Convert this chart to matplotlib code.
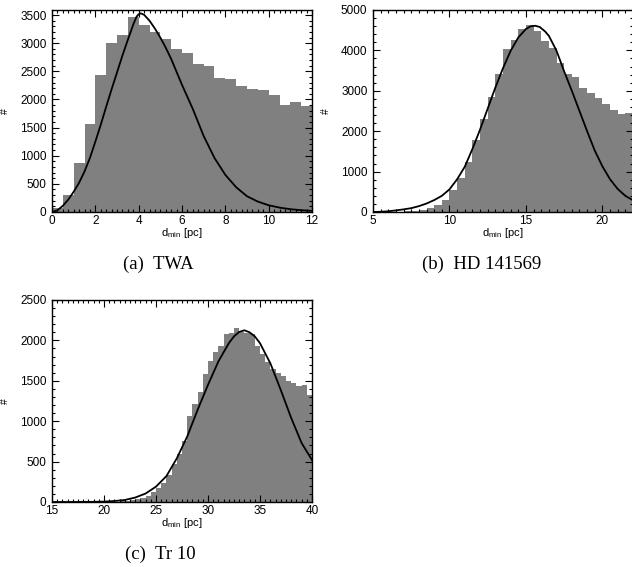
import numpy as np
import matplotlib
matplotlib.use("Agg")
import matplotlib.pyplot as plt
from matplotlib.ticker import MultipleLocator

plt.rcParams["font.family"] = ["Liberation Sans", "DejaVu Sans"]
plt.rcParams["mathtext.fontset"] = "custom"
plt.rcParams["mathtext.rm"] = "Liberation Sans"
plt.rcParams["mathtext.it"] = "Liberation Sans:italic"

# ---- (a) TWA: histogram of d_min (0.5 pc bins from 0 pc) and fitted curve
twa_bin_start, twa_bin_width = 0.0, 0.5
twa_counts = [65, 300, 865, 1563, 2433, 3008, 3150, 3470, 3322, 3191, 3067, 2890,
              2830, 2629, 2593, 2374, 2357, 2238, 2179, 2167, 2072, 1895, 1954, 1883]
twa_fit_x = [0.0, 0.25, 0.5, 0.75, 1.0, 1.25, 1.5, 1.75, 2.0, 2.25, 2.5, 2.75, 3.0,
             3.25, 3.5, 3.75, 3.9, 4.0, 4.1, 4.25, 4.5, 4.75, 5.0, 5.25, 5.5, 5.75,
             6.0, 6.5, 7.0, 7.5, 8.0, 8.5, 9.0, 9.5, 10.0, 10.5, 11.0, 11.5, 12.0]
twa_fit_y = [0, 30, 110, 220, 360, 520, 720, 960, 1250, 1550, 1870, 2180, 2480,
             2780, 3060, 3330, 3470, 3515, 3530, 3505, 3400, 3260, 3100, 2920, 2720, 2490,
             2260, 1830, 1350, 960, 660, 440, 280, 185, 120, 78, 50, 32, 20]

# ---- (b) HD 141569
hd_bin_start, hd_bin_width = 5.0, 0.5
hd_counts = [3, 5, 8, 12, 20, 35, 60, 100, 180, 300, 540, 840, 1230, 1790, 2300, 2840,
             3410, 4040, 4250, 4520, 4620, 4480, 4230, 4070, 3690, 3410, 3330, 3080,
             2950, 2810, 2670, 2520, 2420, 2440]
hd_fit_x = [5.0, 5.5, 6.0, 6.5, 7.0, 7.5, 8.0, 8.5, 9.0, 9.5, 10.0, 10.5, 11.0, 11.5,
            12.0, 12.5, 13.0, 13.5, 14.0, 14.5, 15.0, 15.3, 15.6, 15.9, 16.25, 16.5,
            17.0, 17.5, 18.0, 18.5, 19.0, 19.5, 20.0, 20.5, 21.0, 21.5, 22.0]
hd_fit_y = [0, 5, 18, 40, 65, 95, 145, 210, 295, 400, 560, 810, 1120, 1560,
            2040, 2560, 3080, 3560, 3990, 4320, 4530, 4595, 4610, 4580, 4470, 4360,
            3990, 3480, 3000, 2500, 2000, 1520, 1130, 810, 570, 400, 290]

# ---- (c) Tr 10
tr_bin_start, tr_bin_width = 15.0, 0.5
tr_counts = [1, 1, 1, 1, 1, 1, 2, 2, 2, 2, 3, 4, 6, 9, 14, 22, 35, 55, 80, 120,
             175, 240, 330, 470, 590, 760, 1065, 1215, 1360, 1590, 1750, 1860, 1930,
             2075, 2090, 2150, 2100, 2095, 2080, 1935, 1830, 1730, 1650, 1600, 1560,
             1500, 1470, 1430, 1450, 1320]
tr_fit_x = [15.0, 17.0, 19.0, 20.0, 21.0, 22.0, 23.0, 24.0, 25.0, 26.0, 27.0, 28.0,
            29.0, 30.0, 31.0, 32.0, 32.5, 33.0, 33.5, 34.0, 34.5, 35.0, 36.0, 37.0,
            38.0, 39.0, 40.0]
tr_fit_y = [0, 0, 2, 5, 12, 25, 55, 105, 190, 320, 540, 810, 1140, 1450, 1740, 1965,
            2050, 2105, 2125, 2100, 2050, 1965, 1715, 1385, 1040, 730, 520]

panels = [
    dict(counts=twa_counts, start=twa_bin_start, width=twa_bin_width,
         fx=twa_fit_x, fy=twa_fit_y, xlim=(0, 12), ylim=(0, 3590),
         xmaj=2, xmin=0.25, ymaj=500, ymin=100,
         rect=(52, 10, 260, 202), caption="(a)  TWA", cap_xy=(158, 264)),
    dict(counts=hd_counts, start=hd_bin_start, width=hd_bin_width,
         fx=hd_fit_x, fy=hd_fit_y, xlim=(5, 22), ylim=(0, 5000),
         xmaj=5, xmin=0.5, ymaj=1000, ymin=200,
         rect=(373, 10, 260, 202), caption="(b)  HD 141569", cap_xy=(482, 264)),
    dict(counts=tr_counts, start=tr_bin_start, width=tr_bin_width,
         fx=tr_fit_x, fy=tr_fit_y, xlim=(15, 40), ylim=(0, 2500),
         xmaj=5, xmin=0.5, ymaj=500, ymin=100,
         rect=(52, 300, 260, 202), caption="(c)  Tr 10", cap_xy=(160, 554)),
]

W, H = 632, 567
fig = plt.figure(figsize=(W / 100, H / 100), dpi=100)

for p in panels:
    x0, y0, w, h = p["rect"]
    ax = fig.add_axes([x0 / W, (H - y0 - h) / H, w / W, h / H])
    edges = p["start"] + p["width"] * np.arange(len(p["counts"]) + 1)
    ax.stairs(p["counts"], edges, fill=True, color="#808080", linewidth=0, zorder=1)
    ax.plot(p["fx"], p["fy"], color="black", lw=1.3, zorder=3,
            solid_joinstyle="round")
    ax.set_xlim(*p["xlim"])
    ax.set_ylim(*p["ylim"])
    ax.xaxis.set_major_locator(MultipleLocator(p["xmaj"]))
    ax.xaxis.set_minor_locator(MultipleLocator(p["xmin"]))
    ax.yaxis.set_major_locator(MultipleLocator(p["ymaj"]))
    ax.yaxis.set_minor_locator(MultipleLocator(p["ymin"]))
    ax.tick_params(which="both", direction="in", top=True, right=True,
                   labelsize=8.5, width=0.8, colors="black")
    ax.tick_params(which="major", length=5)
    ax.tick_params(axis="x", which="major", pad=2.5)
    ax.tick_params(axis="y", which="major", pad=4)
    ax.tick_params(which="minor", length=2.5)
    for s in ax.spines.values():
        s.set_linewidth(1.0)
        s.set_zorder(4)
    ax.set_xlabel(r"d$_{\rm min}$ [pc]", fontsize=8)
    ax.xaxis.set_label_coords(0.5, -0.07)
    ax.set_ylabel("#", fontsize=7.5)
    ax.yaxis.set_label_coords(-0.16, 0.5)
    cx, cy = p["cap_xy"]
    fig.text(cx / W, 1 - cy / H, p["caption"], ha="center", va="center",
             fontsize=13.5, family=["Liberation Serif", "DejaVu Serif"])

fig.savefig("out.png", dpi=100)
